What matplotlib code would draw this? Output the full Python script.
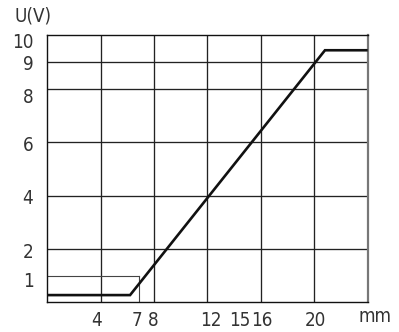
import matplotlib
matplotlib.use("Agg")
import matplotlib.pyplot as plt
from matplotlib.transforms import blended_transform_factory

plt.rcParams['font.family'] = ['DejaVu Sans']
plt.rcParams['font.stretch'] = 'condensed'

# data (mm vs volts)
curve_x = [0, 6.2, 20.8, 24]
curve_y = [0.27, 0.27, 9.44, 9.44]

# grid lines
grid_x = [4, 8, 12, 16, 20]
grid_y = [2, 4, 6, 8, 9]

# small marker frame
frame_x = 6.88
frame_y = 1

# tick labels (positions as printed)
xlabel_pos = [3.7, 6.7, 7.94, 12.26, 14.43, 16.08, 20.05]
xlabels = ["4", "7", "8", "12", "15", "16", "20"]
ylabel_pos = [9.8, 9.0, 7.75, 5.95, 3.95, 1.95, 0.87]
ylabels = ["10", "9", "8", "6", "4", "2", "1"]

W, H = 399, 332
fig = plt.figure(figsize=(W / 100, H / 100), dpi=100)
ax = fig.add_axes([47.3 / W, 1 - 302.3 / H, 320.4 / W, 267.0 / H])
ax.set_xlim(0, 24)
ax.set_ylim(0, 10)

gc = '#222222'
for gx in grid_x:
    ax.axvline(gx, color=gc, lw=0.95, zorder=1)
for gy in grid_y:
    ax.axhline(gy, color=gc, lw=0.95, zorder=1)

ax.plot([0, frame_x], [frame_y, frame_y], color='#444444', lw=0.8, zorder=1)
ax.plot([frame_x, frame_x], [0, frame_y], color='#444444', lw=0.8, zorder=1)

ax.plot(curve_x, curve_y, color='#111111', lw=1.9, solid_capstyle='butt',
        solid_joinstyle='miter', zorder=3, clip_on=False)

for s in ['left', 'bottom', 'top']:
    ax.spines[s].set_color('#111111')
    ax.spines[s].set_linewidth(1.0)
ax.spines['right'].set_color('#777777')
ax.spines['right'].set_linewidth(1.6)

fs = 13.5
tc = '#333333'
ax.set_xticks(xlabel_pos, xlabels)
ax.set_yticks(ylabel_pos, ylabels)
ax.tick_params(axis='both', length=0, labelsize=fs, labelcolor=tc)
ax.tick_params(axis='x', pad=6)
ax.tick_params(axis='y', pad=10)

trans = blended_transform_factory(ax.transData, ax.transAxes)
ax.text(24.55, -(317 - 302.3) / 267.0, "mm", transform=trans, fontsize=fs,
        color=tc, ha='center', va='center', clip_on=False)

fig.text(32.5 / W, 1 - 16.5 / H, "U(V)", fontsize=fs, color=tc,
         ha='center', va='center')

fig.savefig("out.png", dpi=100)
